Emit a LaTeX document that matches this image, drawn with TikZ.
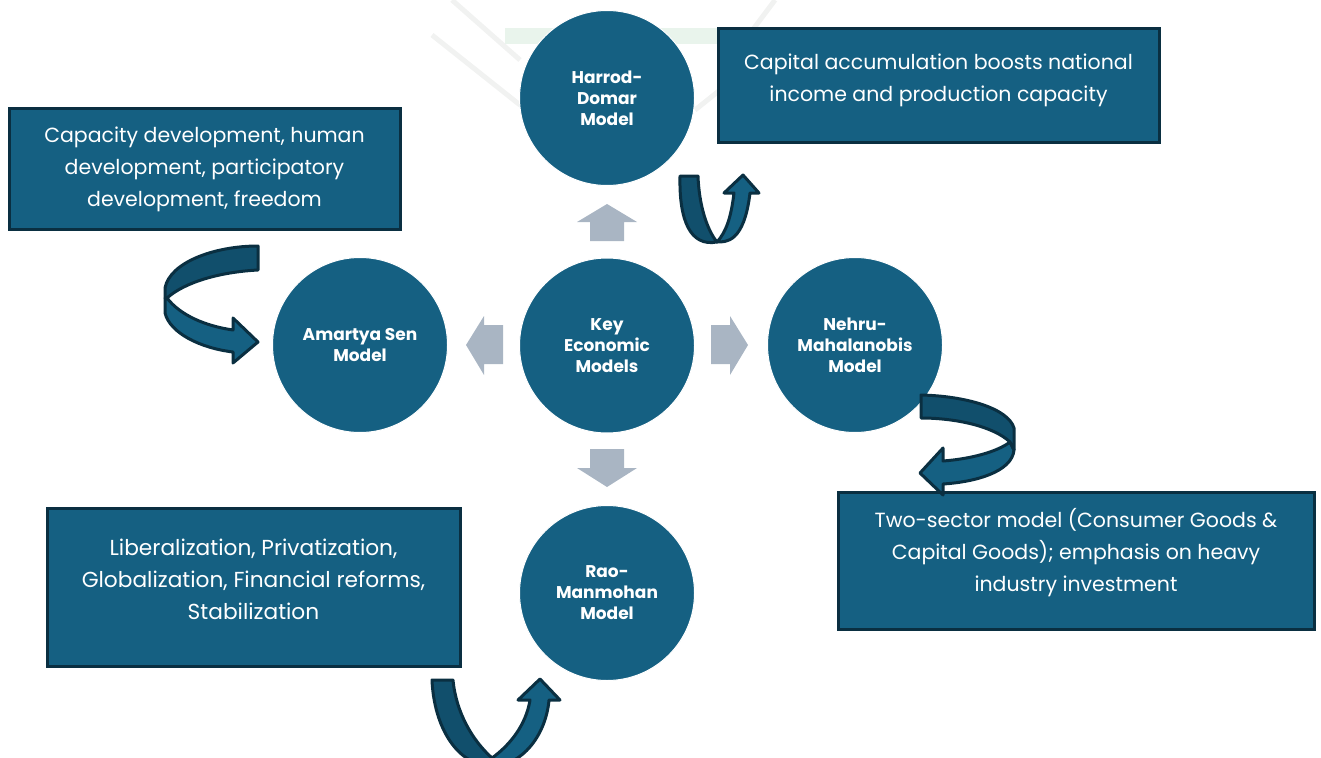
\documentclass[tikz,border=0pt]{standalone}
\usepackage{fontspec}
\setmainfont{Poppins}
\definecolor{teal1}{HTML}{156082}
\definecolor{teal2}{HTML}{114F6C}
\definecolor{edge1}{HTML}{0A2F41}
\definecolor{greyarrow}{HTML}{A9B5C3}
\definecolor{markgrey}{HTML}{F1F2F1}
\definecolor{markgreen}{HTML}{E9F4EC}
\tikzset{
  hub/.style={circle,fill=teal1,draw=white,line width=1pt,minimum size=175pt,inner sep=0pt,align=center,text=white,font=\fontsize{17}{21}\selectfont\bfseries},
  infobox/.style={draw=edge1,line width=3pt,fill=teal1,anchor=north west,inner sep=0pt},
  boxtext/.style={text=white,align=center,font=\fontsize{20.5}{32}\selectfont},
  boxtextwide/.style={text=white,align=center,font=\fontsize{21.7}{32}\selectfont},
  darkband/.style={fill=teal2,draw=edge1,line width=3pt,line join=round},
  lightband/.style={fill=teal1,draw=edge1,line width=3pt,line join=round},
  blockarrow/.style={fill=greyarrow,draw=none},
}
\begin{document}
\begin{tikzpicture}[x=1pt,y=-1pt]
\useasboundingbox (0,0) rectangle (1321,757);
% faint background marks
\begin{scope}[draw=markgrey,line width=5pt]
\fill[markgreen] (505,28) rectangle (720,44);
\draw (452,0) -- (520,60);
\draw (775,0) -- (745,40);
\draw (432,35) -- (520,105);
\draw (695,110) -- (735,78);
\end{scope}
% boxes
\node[infobox,minimum width=441pt,minimum height=114pt] (b1) at (717,27) {};
\node[boxtext] (t1) at (938.5,80) {Capital accumulation boosts national\\income and production capacity};
\node[infobox,minimum width=391pt,minimum height=121pt] (b2) at (8,107) {};
\node[boxtext] (t2) at (204.5,169) {Capacity development, human\\development, participatory\\development, freedom};
\node[infobox,minimum width=476pt,minimum height=137pt] (b3) at (837,491) {};
\node[boxtext] (t3) at (1076,553) {Two-sector model (Consumer Goods \&\\Capital Goods); emphasis on heavy\\industry investment};
\node[infobox,minimum width=413pt,minimum height=158pt] (b4) at (46,507) {};
\node[boxtextwide] (t4) at (253.5,579) {Liberalization, Privatization,\\Globalization, Financial reforms,\\Stabilization};
% hubs
\node[hub] (key) at (607,345.5) {Key\\Economic\\Models};
\node[hub] (top) at (607,98) {Harrod-\\Domar\\Model};
\node[hub] (left) at (360,345) {Amartya Sen\\Model};
\node[hub] (right) at (855,345) {Nehru-\\Mahalanobis\\Model};
\node[hub] (bottom) at (607,593) {Rao-\\Manmohan\\Model};
% grey arrows
\fill[blockarrow] (590,241) -- (590,222) -- (577,222) -- (607,204) -- (637,222) -- (624,222) -- (624,241) -- cycle;
\fill[blockarrow] (590,449) -- (590,468) -- (577,468) -- (607,487) -- (637,468) -- (624,468) -- (624,449) -- cycle;
\fill[blockarrow] (711,325) -- (730,325) -- (730,316) -- (748,345) -- (730,375) -- (730,364) -- (711,364) -- cycle;
\fill[blockarrow] (503,325) -- (484,325) -- (484,316) -- (466,345) -- (484,375) -- (484,364) -- (503,364) -- cycle;
% top U arrow
\draw[lightband] (717,242) .. controls (726,242) and (744,243) .. (750,193) -- (759,193) -- (743,175) -- (724,193) -- (734,193) .. controls (731,218) and (726,232) .. (717,242) -- cycle;
\draw[darkband] (680,176) -- (698,176) .. controls (699,205) and (707,230) .. (717,242) .. controls (690,247) and (679,220) .. (680,176) -- cycle;
% left arrow
\draw[lightband] (165,298) -- (165,313) .. controls (170,333) and (200,348) .. (233,352) -- (233,363) -- (258,342) -- (233,318) -- (233,330) .. controls (205,326) and (180,315) .. (167,298) -- cycle;
\draw[darkband] (258,246) -- (258,270) .. controls (220,272) and (185,282) .. (167,298) -- (165,298) -- (165,288) .. controls (170,262) and (215,246) .. (258,246) -- cycle;
% right arrow
\draw[lightband] (1010,442) -- (1014,450) .. controls (1012,472) and (975,482) .. (943,484) -- (943,495) -- (920,473) -- (943,448) -- (943,461) .. controls (970,459) and (997,452) .. (1010,442) -- cycle;
\draw[darkband] (921,395) -- (921,418) .. controls (955,418) and (993,426) .. (1010,442) -- (1014,450) -- (1014,428) .. controls (1008,408) and (965,396) .. (921,395) -- cycle;
% bottom U arrow
\begin{scope}
\clip (0,0) rectangle (1321,757);
\draw[lightband] (492,758) .. controls (510,745) and (526,725) .. (530,700) -- (518,700) -- (540,679) -- (560,700) -- (549,700) .. controls (546,735) and (522,766) .. (492,766) -- cycle;
\draw[darkband] (432,680) -- (453,680) .. controls (456,712) and (472,740) .. (492,758) -- (492,766) .. controls (458,766) and (434,728) .. (432,680) -- cycle;
\end{scope}
\end{tikzpicture}
\end{document}
